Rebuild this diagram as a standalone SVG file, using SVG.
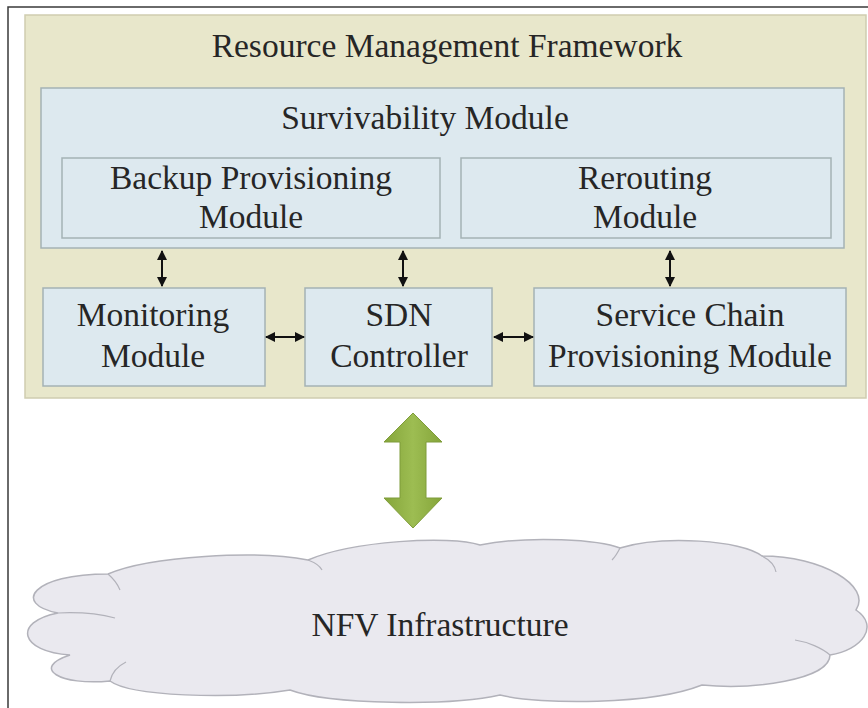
<svg xmlns="http://www.w3.org/2000/svg" width="868" height="708" viewBox="0 0 868 708">
<defs>
<style>
text{font-family:'Liberation Serif','Times New Roman','DejaVu Serif',serif}
.t{font-size:33.5px;fill:#262626;text-anchor:middle}
.box{fill:#dde9ef;stroke:#a4b2b5;stroke-width:1.5}
.conn{stroke:#111;stroke-width:2;fill:none;marker-start:url(#ah);marker-end:url(#ah)}
</style>
<marker id="ah" viewBox="0 0 10 10" refX="9" refY="5" markerWidth="5" markerHeight="5" orient="auto-start-reverse" markerUnits="strokeWidth">
<path d="M0,0 L10,5 L0,10 Z" fill="#111"/>
</marker>
<linearGradient id="g" x1="0" y1="0" x2="1" y2="0">
<stop offset="0" stop-color="#85a53a"/>
<stop offset="0.5" stop-color="#9dbd52"/>
<stop offset="1" stop-color="#85a53a"/>
</linearGradient>
</defs>
<rect width="868" height="708" fill="#ffffff"/>
<rect x="8" y="7" width="880" height="720" fill="none" stroke="#3a3a3a" stroke-width="1.5"/>

<g font-family="Liberation Serif, Times New Roman, serif">
<g id="framework">
<rect x="25" y="15" width="841" height="383" fill="#e8e7cb" stroke="#cfcdb0" stroke-width="1.5"/>
<text class="t" x="447" y="57">Resource Management Framework</text>
</g>

<g id="survivability">
<rect class="box" x="41" y="88" width="803" height="160"/>
<text class="t" x="425" y="129">Survivability Module</text>
</g>

<g id="backup">
<rect class="box" x="62" y="158" width="378" height="80"/>
<text class="t" x="251" y="189">Backup Provisioning</text>
<text class="t" x="251" y="228">Module</text>
</g>

<g id="rerouting">
<rect class="box" x="461" y="158" width="370" height="80"/>
<text class="t" x="645" y="189">Rerouting</text>
<text class="t" x="645" y="228">Module</text>
</g>

<g id="monitoring">
<rect class="box" x="43" y="288" width="222" height="98"/>
<text class="t" x="153" y="326">Monitoring</text>
<text class="t" x="153" y="367">Module</text>
</g>

<g id="sdn">
<rect class="box" x="305" y="288" width="187" height="98"/>
<text class="t" x="399" y="326">SDN</text>
<text class="t" x="399" y="367">Controller</text>
</g>

<g id="servicechain">
<rect class="box" x="534" y="288" width="312" height="98"/>
<text class="t" x="690" y="326">Service Chain</text>
<text class="t" x="690" y="367">Provisioning Module</text>
</g>

<g id="nfvi">
<path d="M70,655 C20,652 12,622 58,613 C12,604 32,574 108,574 C150,556 258,550 308,560 C352,541 450,535 480,545 C530,535 600,540 620,548 C662,535 742,540 762,556 C822,556 872,586 856,610 C880,626 862,650 830,655 C830,680 752,690 702,685 C652,705 540,705 500,695 C452,706 330,705 290,690 C230,700 130,696 110,681 C60,686 30,668 70,655 Z" fill="#eae9ef" stroke="#b2b2ba" stroke-width="1.5"/>
<path d="M58,613 C80,612 100,614 115,618 M108,574 C115,580 118,585 120,590 M308,560 C316,563 320,566 322,570 M620,548 C618,552 616,556 612,560 M762,556 C770,560 775,566 776,572 M830,655 C822,648 808,642 795,640 M110,681 C112,672 118,666 126,662" fill="none" stroke="#b2b2ba" stroke-width="1.2"/>
<text class="t" x="440" y="636">NFV Infrastructure</text>
</g>
</g>

<g id="connectors">
<line class="conn" x1="162" y1="251" x2="162" y2="286"/>
<line class="conn" x1="403" y1="251" x2="403" y2="286"/>
<line class="conn" x1="670" y1="251" x2="670" y2="286"/>
<line class="conn" x1="266" y1="337" x2="304" y2="337"/>
<line class="conn" x1="494" y1="337" x2="533" y2="337"/>
<path d="M413,413 L442,442 L426,442 L426,498 L442,498 L413,528 L384,498 L400,498 L400,442 L384,442 Z" fill="url(#g)" stroke="#7f9c3a" stroke-width="1"/>
</g>
</svg>
